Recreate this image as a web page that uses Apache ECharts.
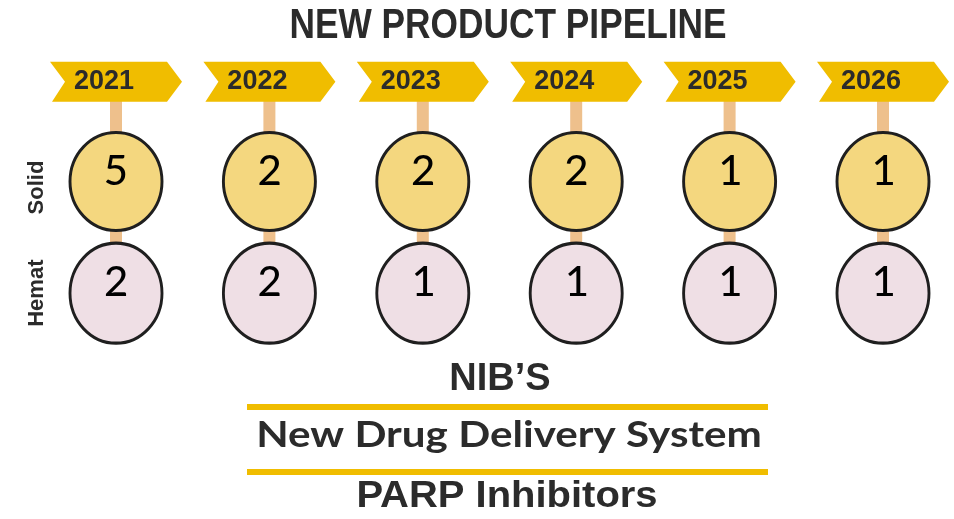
<!DOCTYPE html>
<html>
<head>
<meta charset="utf-8">
<script src="https://cdn.jsdelivr.net/npm/echarts@6/dist/echarts.min.js"></script>
<style>
  html, body { margin: 0; padding: 0; background: #fff; }
  #chart-1 { width: 954px; height: 519px; }
</style>
</head>
<body>
<div id="chart-1"></div>
<script>
// pipeline data
var years = ['2021', '2022', '2023', '2024', '2025', '2026'];
var rowNames = ['', 'Solid', 'Hemat'];
var solidCounts = [5, 2, 2, 2, 1, 1];
var hematCounts = [2, 2, 1, 1, 1, 1];
var titleText = 'NEW PRODUCT PIPELINE';
var footerLines = ["NIB\u2019S", 'New Drug Delivery System', 'PARP Inhibitors'];

var yellow = '#f0bd00';
var dark = '#2b2b2b';
var boldSans = '"Liberation Sans", Arial, sans-serif';

var myChart = echarts.init(document.getElementById('chart-1'));
var option = {
    backgroundColor: '#fff',
    animation: false,
    grid: {
        left: 116,
        right: 71,
        top: 29,
        height: 317
    },
    xAxis: {
        type: 'category',
        data: years,
        boundaryGap: false,
        axisLine: { show: false },
        axisTick: { show: false },
        axisLabel: { show: false },
        splitLine: { show: false }
    },
    yAxis: {
        type: 'category',
        data: rowNames,
        inverse: true,
        axisLine: { show: false },
        axisTick: { show: false },
        splitLine: { show: false },
        axisLabel: {
            rotate: 90,
            margin: 68,
            fontFamily: boldSans,
            fontWeight: 'bold',
            fontSize: 22,
            color: dark
        }
    },
    series: [
        {
            // sticks behind the signs
            type: 'custom',
            z: 1,
            silent: true,
            data: years.map(function (y, i) { return [i, 0]; }),
            renderItem: function (params, api) {
                var top = api.coord([api.value(0), 0]);
                var bot = api.coord([api.value(0), 2]);
                return {
                    type: 'rect',
                    shape: { x: top[0] - 6, y: top[1], width: 12, height: bot[1] - top[1] },
                    style: { fill: '#eec08c' }
                };
            }
        },
        {
            // year banners
            type: 'scatter',
            z: 3,
            data: years.map(function (y, i) { return [i, 0, y]; }),
            symbol: 'path://M0,0 L117,0 L132,20 L117,40 L2,40 L15,20 Z',
            symbolSize: [132, 40],
            itemStyle: { color: yellow, opacity: 1 },
            label: {
                show: true,
                position: 'inside',
                offset: [-12, 0],
                formatter: function (p) { return p.value[2]; },
                fontFamily: boldSans,
                fontWeight: 'bold',
                fontSize: 27,
                color: dark
            }
        },
        {
            name: 'Solid',
            type: 'scatter',
            z: 4,
            data: solidCounts.map(function (v, i) { return [i, 1, v]; }),
            symbol: 'circle',
            symbolSize: [92, 98],
            symbolOffset: [0, -6],
            itemStyle: { color: '#f4d77f', borderColor: '#1f1f1f', borderWidth: 3, opacity: 1 },
            label: {
                show: true,
                position: 'inside',
                offset: [0, -9],
                formatter: function (p) { return p.value[2]; },
                fontFamily: 'Carlito, "Open Sans", sans-serif',
                fontSize: 48,
                color: '#000'
            }
        },
        {
            name: 'Hemat',
            type: 'scatter',
            z: 4,
            data: hematCounts.map(function (v, i) { return [i, 2, v]; }),
            symbol: 'circle',
            symbolSize: [92, 100],
            itemStyle: { color: '#efdfe5', borderColor: '#1f1f1f', borderWidth: 3, opacity: 1 },
            label: {
                show: true,
                position: 'inside',
                offset: [0, -9],
                formatter: function (p) { return p.value[2]; },
                fontFamily: 'Carlito, "Open Sans", sans-serif',
                fontSize: 48,
                color: '#000'
            }
        }
    ],
    graphic: [
        {
            type: 'text', x: 508, y: 26, scaleX: 0.84,
            style: { text: titleText, align: 'center', verticalAlign: 'middle',
                fontFamily: boldSans, fontWeight: 'bold', fontSize: 42, fill: dark }
        },
        {
            type: 'text', x: 500, y: 380,
            style: { text: footerLines[0], align: 'center', verticalAlign: 'middle',
                fontFamily: boldSans, fontWeight: 'bold', fontSize: 38, fill: dark }
        },
        { type: 'rect', shape: { x: 247, y: 404, width: 521, height: 6 }, style: { fill: yellow } },
        {
            type: 'text', x: 509, y: 435, scaleX: 1.14,
            style: { text: footerLines[1], align: 'center', verticalAlign: 'middle',
                fontFamily: 'Lato, "Open Sans", sans-serif', fontWeight: 'bold', fontSize: 37, fill: dark }
        },
        { type: 'rect', shape: { x: 247, y: 469, width: 521, height: 6 }, style: { fill: yellow } },
        {
            type: 'text', x: 507, y: 497, scaleX: 1.08,
            style: { text: footerLines[2], align: 'center', verticalAlign: 'middle',
                fontFamily: boldSans, fontWeight: 'bold', fontSize: 37, fill: dark }
        }
    ]
};
myChart.setOption(option);
</script>
</body>
</html>
